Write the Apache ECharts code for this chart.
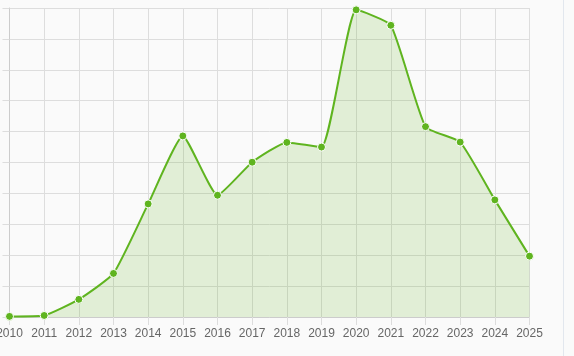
<!DOCTYPE html>
<html>
<head>
<meta charset="utf-8">
<script src="https://cdn.jsdelivr.net/npm/echarts@6/dist/echarts.min.js"></script>
<style>
html,body{margin:0;padding:0;background:#fafafa;}
#c{width:563px;height:356px;border-right:1px solid #e2e7ee;box-sizing:content-box;}
</style>
</head>
<body>
<div id="c"></div>
<script>
const years = ['2010','2011','2012','2013','2014','2015','2016','2017','2018','2019','2020','2021','2022','2023','2024','2025'];
const values = [0.02, 0.05, 0.57, 1.41, 3.66, 5.86, 3.94, 5.01, 5.65, 5.50, 9.94, 9.44, 6.16, 5.66, 3.79, 1.97];

const chart = echarts.init(document.getElementById('c'), null, {renderer:'canvas'});
chart.setOption({
  backgroundColor: '#fafafa',
  animation: false,
  grid: {left: 9.5, right: 33.5, top: 8, bottom: 39, containLabel: false, outerBoundsMode: 'none'},
  xAxis: {
    type: 'category',
    data: years,
    boundaryGap: false,
    axisLine: {lineStyle: {color: '#cccccc', width: 1}},
    axisTick: {show: true, length: 8, interval: 0, lineStyle: {color: '#dddddd'}},
    axisLabel: {color: '#666666', fontSize: 12, margin: 11, interval: 0, hideOverlap: false, fontFamily: 'Liberation Sans, Arial, sans-serif'},
    splitLine: {show: true, interval: 0, lineStyle: {color: '#dddddd', width: 1}}
  },
  yAxis: {
    type: 'value',
    min: 0, max: 10, interval: 1,
    axisLine: {show: true, lineStyle: {color: '#cccccc'}},
    axisTick: {show: true, length: 7, lineStyle: {color: '#dddddd'}},
    axisLabel: {show: false},
    splitLine: {show: true, lineStyle: {color: '#dddddd', width: 1}}
  },
  series: [{
    type: 'line',
    data: values,
    smooth: 0.15,
    symbol: 'circle',
    symbolSize: 8,
    showSymbol: true,
    lineStyle: {color: '#5fb41f', width: 2},
    itemStyle: {color: '#5fb41f', borderColor: '#ffffff', borderWidth: 1},
    areaStyle: {color: 'rgba(98,180,34,0.24)'}
  }]
});
</script>
</body>
</html>
